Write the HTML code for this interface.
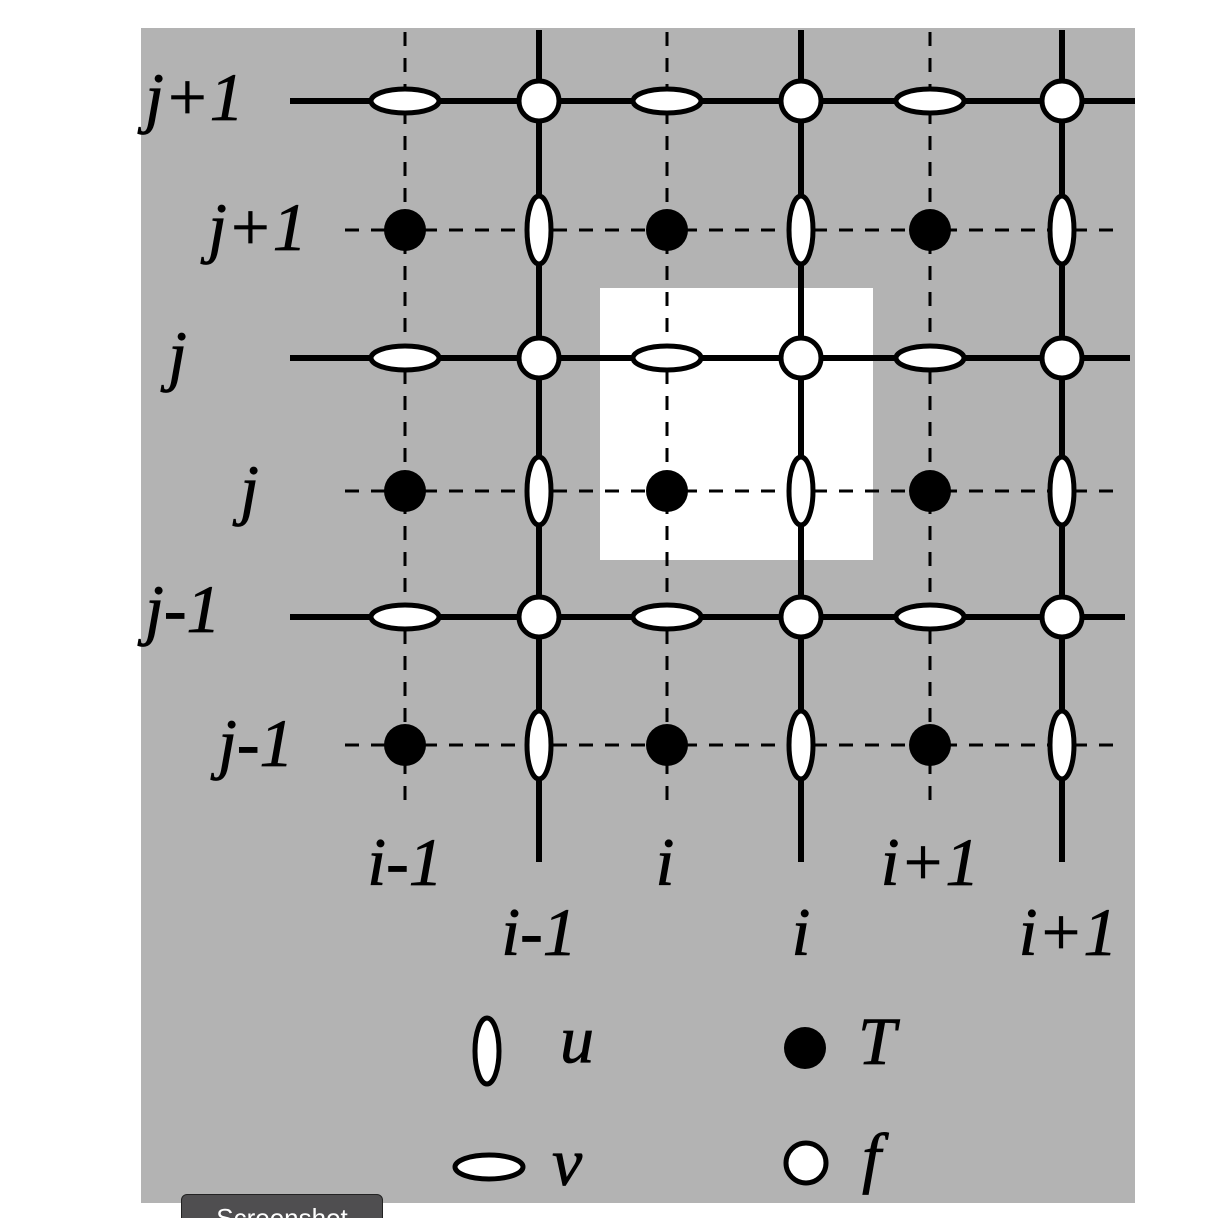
<!DOCTYPE html>
<html><head><meta charset="utf-8"><style>
html,body{margin:0;padding:0;background:#fff;width:1232px;height:1218px;overflow:hidden;position:relative}
svg{position:absolute;left:0;top:0}
.lbl{font-family:"Liberation Serif",serif;font-style:italic;font-size:68px;fill:#000;stroke:#000;stroke-width:0.8}
#btn{position:absolute;left:181px;top:1194px;width:202px;height:40px;background:#4f4e50;border:1px solid #222;border-radius:6px;color:#fff;font-family:"Liberation Sans",sans-serif;font-size:26px;text-align:center;line-height:46px;box-sizing:border-box}
</style></head><body>
<svg id="chart" width="1232" height="1218">
<rect x="141" y="28" width="994" height="1175" fill="#b3b3b3"/>
<rect x="600" y="288" width="273" height="272" fill="#fff"/>
<g id="g"></g>
</svg>
<div id="btn">Screenshot</div>
<script>
const solidX=[539,801,1062];
const solidY=[101,358,617];
const dashX=[405,667,930];
const dashY=[230,491,745];
const rowLabels=[["j+1",145,120],["j+1",208,250],["j",168,378],["j",240,512],["j-1",145,632],["j-1",218,766]];
const colLabels=[["i-1",405,885],["i",665,885],["i+1",930,885],["i-1",539,955],["i",801,955],["i+1",1068,955]];
const NS="http://www.w3.org/2000/svg";
const g=document.getElementById('g');
function mk(t,a){const e=document.createElementNS(NS,t);for(const k in a)e.setAttribute(k,a[k]);g.appendChild(e);return e;}
const solidEnd=[1135,1130,1125];
dashX.forEach(x=>{const e=mk('line',{x1:x,y1:32,x2:x,y2:810,stroke:'#000','stroke-width':3,'stroke-dasharray':'14 12'});

});
dashY.forEach(y=>{const e=mk('line',{x1:345,y1:y,x2:1120,y2:y,stroke:'#000','stroke-width':3,'stroke-dasharray':'14 12'});

});
solidY.forEach((y,i)=>{const e=mk('line',{x1:290,y1:y,x2:solidEnd[i],y2:y,stroke:'#000','stroke-width':6});

});
solidX.forEach(x=>{const e=mk('line',{x1:x,y1:30,x2:x,y2:862,stroke:'#000','stroke-width':6});

});
dashX.forEach(x=>solidY.forEach(y=>{const e=mk('ellipse',{cx:x,cy:y,rx:34,ry:12,fill:'#fff',stroke:'#000','stroke-width':5});

}));
solidX.forEach(x=>dashY.forEach(y=>{const e=mk('ellipse',{cx:x,cy:y,rx:12,ry:34,fill:'#fff',stroke:'#000','stroke-width':5});

}));
solidX.forEach(x=>solidY.forEach(y=>{const e=mk('circle',{cx:x,cy:y,r:20,fill:'#fff',stroke:'#000','stroke-width':5});

}));
dashX.forEach(x=>dashY.forEach(y=>{const e=mk('circle',{cx:x,cy:y,r:21,fill:'#000'});

}));
rowLabels.forEach(l=>{const e=mk('text',{x:l[1],y:l[2],class:'lbl'});e.textContent=l[0];

});
colLabels.forEach(l=>{const e=mk('text',{x:l[1],y:l[2],class:'lbl','text-anchor':'middle'});e.textContent=l[0];

});
let e;
e=mk('ellipse',{cx:487,cy:1051,rx:12,ry:33,fill:'#fff',stroke:'#000','stroke-width':5});


e=mk('text',{x:560,y:1062,class:'lbl'});e.textContent='u';


e=mk('circle',{cx:805,cy:1048,r:21,fill:'#000'});


e=mk('text',{x:858,y:1064,class:'lbl'});e.textContent='T';


e=mk('ellipse',{cx:489,cy:1167,rx:34,ry:12,fill:'#fff',stroke:'#000','stroke-width':5});


e=mk('text',{x:552,y:1185,class:'lbl'});e.textContent='v';


e=mk('circle',{cx:806,cy:1163,r:20,fill:'#fff',stroke:'#000','stroke-width':5});


e=mk('text',{x:862,y:1180,class:'lbl'});e.textContent='f';


</script>
</body></html>
